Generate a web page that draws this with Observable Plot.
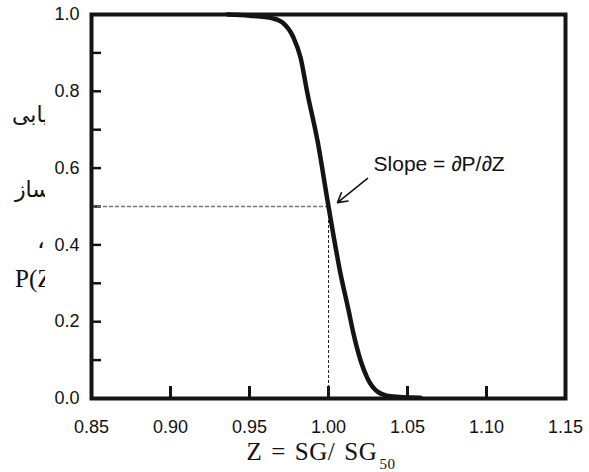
<!DOCTYPE html>
<html>
<head>
<meta charset="utf-8">
<script src="https://cdn.jsdelivr.net/npm/d3@7"></script>
<script src="https://cdn.jsdelivr.net/npm/@observablehq/plot@0.6"></script>
<style>
  html, body { margin: 0; padding: 0; background: #fff; }
  #chart svg { display: block; }
</style>
</head>
<body>
<div id="chart"></div>
<script>
// ---- data ----
const xDomain = [0.85, 1.15];
const yDomain = [0, 1];
const xTickLabels = [0.85, 0.90, 0.95, 1.00, 1.05, 1.10, 1.15];
const xInnerTicks = [0.90, 0.95, 1.00, 1.05, 1.10];
const yTickLabels = [0.0, 0.2, 0.4, 0.6, 0.8, 1.0];
const yInnerTicks = [0.1, 0.2, 0.3, 0.4, 0.5, 0.6, 0.7, 0.8, 0.9];

const curveZ = [0.936, 0.950, 0.9646, 0.9709, 0.9778, 0.9823, 0.9867, 0.993, 1.000, 1.0076, 1.0127, 1.0158, 1.0203, 1.0247, 1.031, 1.0392, 1.0582];
const curveP = [1.000, 0.997, 0.990, 0.979, 0.940, 0.888, 0.794, 0.672, 0.500, 0.325, 0.230, 0.169, 0.099, 0.052, 0.018, 0.006, 0.002];

const refZ = 1.0;
const refP = 0.5;

const annotationText = "Slope = ∂P/∂Z";
const annotationAt = [1.0285, 0.611];
const arrowFrom = [1.0247, 0.573];
const arrowTo = [1.0057, 0.510];

const xLabelMain = "Z = SG/ SG";
const xLabelSub = "50";
// visible (clipped) fragments of the Persian y-axis title
const yLabelLines = ["یابی", "ساز", "،", "P(Z)"];

// ---- build ----
const curve = curveZ.map((z, i) => ({z, p: curveP[i]}));
const ink = "#141414";

const chart = Plot.plot({
  width: 589,
  height: 472,
  marginTop: 14,
  marginBottom: 74,
  marginLeft: 91,
  marginRight: 24,
  x: {domain: xDomain, axis: null},
  y: {domain: yDomain, axis: null},
  style: {fontFamily: "'Liberation Sans', Arial, Helvetica, sans-serif", color: "#111", background: "#fff"},
  marks: [
    Plot.axisX(xTickLabels, {anchor: "bottom", tickSize: 0, tickPadding: 22, tickFormat: d3.format(".2f"), fontSize: 18, label: null, fill: "#111"}),
    Plot.axisY(yTickLabels, {anchor: "left", tickSize: 0, tickPadding: 12, tickFormat: d3.format(".1f"), fontSize: 18, label: null, fill: "#111"}),
    Plot.tickX(xInnerTicks, {x: d => d, stroke: ink, strokeWidth: 3, insetTop: 372}),
    Plot.tickY(yInnerTicks, {y: d => d, stroke: ink, strokeWidth: 2.5, insetRight: 464}),
    Plot.ruleY([refP], {y: d => d, x1: xDomain[0], x2: refZ, stroke: "#777", strokeWidth: 1.3, strokeDasharray: "4,2"}),
    Plot.ruleX([refZ], {x: d => d, y1: yDomain[0], y2: refP, stroke: "#222", strokeWidth: 1, strokeDasharray: "3,2"}),
    Plot.line(curve, {x: "z", y: "p", stroke: ink, strokeWidth: 4.5, curve: "monotone-x"}),
    Plot.arrow([{x1: arrowFrom[0], y1: arrowFrom[1], x2: arrowTo[0], y2: arrowTo[1]}], {
      x1: "x1", y1: "y1", x2: "x2", y2: "y2", stroke: ink, strokeWidth: 1.6, headLength: 10
    }),
    Plot.text([annotationText], {x: annotationAt[0], y: annotationAt[1], text: d => d, textAnchor: "start", fontSize: 21, fill: "#111"}),
    Plot.frame({stroke: ink, strokeWidth: 4})
  ]
});

document.getElementById("chart").appendChild(chart);

// ---- x-axis title with subscript ----
const svg = d3.select(chart);
const xs = chart.scale("x");
const xl = svg.append("text")
  .attr("x", xs.apply(refZ) - 7)
  .attr("y", 460)
  .attr("text-anchor", "middle")
  .attr("font-family", "'Liberation Serif', 'Times New Roman', serif")
  .attr("font-size", 25)
  .attr("letter-spacing", 0.6)
  .attr("word-spacing", 2)
  .attr("fill", "#111");
xl.append("tspan").text(xLabelMain);
xl.append("tspan").attr("font-size", 15).attr("dy", 9).attr("dx", 2).text(xLabelSub);

// ---- clipped y-axis title fragments ----
svg.append("defs").append("clipPath").attr("id", "ylab-clip")
  .append("rect").attr("x", 0).attr("y", 0).attr("width", 45).attr("height", 472);
const yl = svg.append("g").attr("clip-path", "url(#ylab-clip)")
  .attr("font-family", "'Liberation Serif', 'Times New Roman', 'DejaVu Sans', serif")
  .attr("fill", "#111");
const yLabelPos = [[12, 122, 22], [15, 197, 22], [37, 248, 24], [15, 287, 25]];
yLabelLines.forEach((t, i) => {
  const [x, y, fs] = yLabelPos[i];
  yl.append("text").attr("x", x).attr("y", y).attr("font-size", fs)
    .attr("text-anchor", "start").text(t);
});
</script>
</body>
</html>
